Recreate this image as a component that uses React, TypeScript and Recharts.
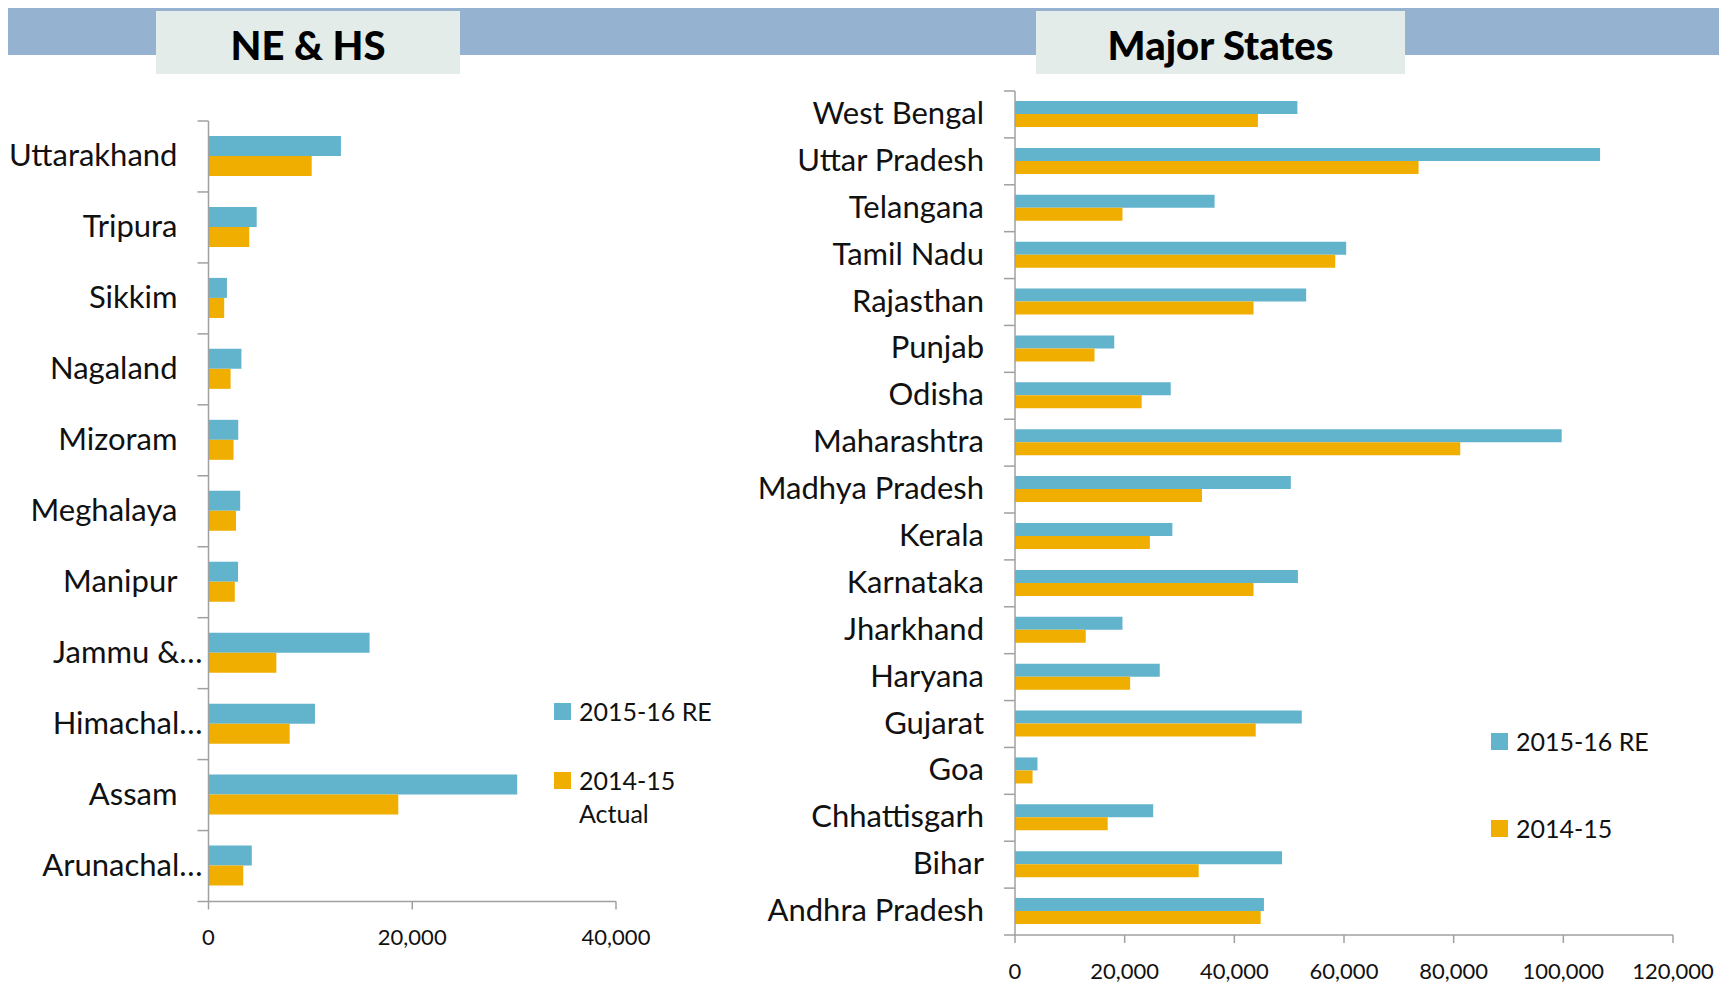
import React from 'react';
import { BarChart, Bar, XAxis, YAxis, Legend } from 'recharts';

// NE & HS states, top to bottom as drawn
const neStates = ['Uttarakhand', 'Tripura', 'Sikkim', 'Nagaland', 'Mizoram', 'Meghalaya', 'Manipur', 'Jammu &…', 'Himachal…', 'Assam', 'Arunachal…'];
const neRE = [13000, 4730, 1810, 3230, 2920, 3110, 2900, 15810, 10450, 30300, 4250];
const neActual = [10130, 4000, 1540, 2170, 2460, 2700, 2580, 6660, 7970, 18630, 3410];
const neTicks = [0, 20000, 40000];

// Major states, top to bottom as drawn
const majorStates = ['West Bengal', 'Uttar Pradesh', 'Telangana', 'Tamil Nadu', 'Rajasthan', 'Punjab', 'Odisha', 'Maharashtra', 'Madhya Pradesh', 'Kerala', 'Karnataka', 'Jharkhand', 'Haryana', 'Gujarat', 'Goa', 'Chhattisgarh', 'Bihar', 'Andhra Pradesh'];
const majorRE = [51500, 106700, 36400, 60400, 53100, 18100, 28400, 99700, 50300, 28700, 51600, 19600, 26400, 52300, 4100, 25200, 48700, 45400];
const majorActual = [44300, 73600, 19600, 58400, 43500, 14500, 23100, 81200, 34100, 24600, 43500, 12900, 21000, 43900, 3200, 16900, 33500, 44800];
const majorTicks = [0, 20000, 40000, 60000, 80000, 100000, 120000];

const BLUE = '#62B3CC';
const ORANGE = '#F0AE00';
const GRAY = '#A0A0A0';
const FONT = 'Lato, "Open Sans", sans-serif';
const seriesOrder = ['re', 'actual'];

const neData = neStates.map((name, i) => ({ name, re: neRE[i], actual: neActual[i] }));
const majorData = majorStates.map((name, i) => ({ name, re: majorRE[i], actual: majorActual[i] }));

function CategoryTick(props: any) {
  const { x, y, payload, index, band, count } = props;
  const half = band / 2;
  const truncated = String(payload.value).endsWith('…');
  return (
    <g>
      <line x1={x - 11} x2={x} y1={y - half} y2={y - half} stroke={GRAY} strokeWidth={1.5} />
      {index === count - 1 && (
        <line x1={x - 11} x2={x} y1={y + half} y2={y + half} stroke={GRAY} strokeWidth={1.5} />
      )}
      <text
        x={x - (truncated ? 6 : 31)}
        y={y - 2.5}
        textAnchor="end"
        dominantBaseline="central"
        fontFamily={FONT}
        fontSize={31}
        fill="#111"
      >
        {payload.value}
      </text>
    </g>
  );
}

function ValueTick(props: any) {
  const { x, y, payload } = props;
  return (
    <text x={x} y={y + 27} textAnchor="middle" dominantBaseline="central" fontFamily={FONT} fontSize={22} fill="#111">
      {Number(payload.value).toLocaleString('en-US')}
    </text>
  );
}

function makeLegend(gap: number) {
  return (props: any) => {
    const items = [...(props.payload || [])].sort(
      (a: any, b: any) => seriesOrder.indexOf(a.dataKey) - seriesOrder.indexOf(b.dataKey)
    );
    return (
      <div style={{ fontFamily: FONT }}>
        {items.map((p: any, i: number) => (
          <div key={i} style={{ display: 'flex', alignItems: 'flex-start', marginBottom: gap }}>
            <span style={{ width: 17, height: 17, background: p.color, marginTop: 8, marginRight: 8, flex: 'none' }} />
            <span style={{ width: 145, fontSize: 25, lineHeight: '33px', color: '#111' }}>{p.value}</span>
          </div>
        ))}
      </div>
    );
  };
}

const titleBox = (left: number, width: number, text: string) => (
  <div
    style={{
      position: 'absolute',
      left,
      top: 11,
      width,
      height: 63,
      background: '#E3ECE9',
      display: 'flex',
      alignItems: 'center',
      justifyContent: 'center',
      paddingTop: 4,
      boxSizing: 'border-box',
      fontFamily: FONT,
      fontWeight: 900,
      fontSize: 40,
      color: '#000',
    }}
  >
    {text}
  </div>
);

export default function App() {
  const nePlotH = 901.5 - 121;
  const majorPlotH = 935 - 91;
  return (
    <div style={{ position: 'relative', width: 1719, height: 983, overflow: 'hidden', background: '#fff' }}>
      <style>{`body{margin:0}`}</style>
      <div style={{ position: 'absolute', left: 8, top: 8, width: 1711, height: 47, background: '#95B3D1' }} />
      {titleBox(156, 304, 'NE & HS')}
      {titleBox(1036, 369, 'Major States')}

      <div style={{ position: 'absolute', left: 0, top: 0 }}>
        <BarChart
          width={700}
          height={983}
          data={neData}
          layout="vertical"
          margin={{ top: 121, right: 84, bottom: 31.5, left: 0 }}
          barSize={20}
          barGap={0}
        >
          <XAxis
            type="number"
            domain={[0, 40000]}
            ticks={neTicks}
            height={50}
            axisLine={{ stroke: GRAY, strokeWidth: 1.5 }}
            tickLine={{ stroke: GRAY, strokeWidth: 1.5 }}
            tickSize={8}
            tickMargin={0}
            tick={<ValueTick />}
          />
          <YAxis
            type="category"
            dataKey="name"
            width={208.5}
            interval={0}
            axisLine={{ stroke: GRAY, strokeWidth: 1.5 }}
            tickLine={false}
            tickSize={0}
            tickMargin={0}
            tick={<CategoryTick band={nePlotH / neStates.length} count={neStates.length} />}
          />
          <Legend
            layout="horizontal"
            align="center"
            verticalAlign="middle"
            content={makeLegend(36)}
            wrapperStyle={{ left: 554, top: 694.5, width: 200 }}
          />
          <Bar dataKey="re" name="2015-16 RE" fill={BLUE} isAnimationActive={false} />
          <Bar dataKey="actual" name="2014-15 Actual" fill={ORANGE} isAnimationActive={false} />
        </BarChart>
      </div>

      <div style={{ position: 'absolute', left: 700, top: 0 }}>
        <BarChart
          width={1019}
          height={983}
          data={majorData}
          layout="vertical"
          margin={{ top: 91, right: 46, bottom: 0, left: 0 }}
          barSize={13}
          barGap={0}
        >
          <XAxis
            type="number"
            domain={[0, 120000]}
            ticks={majorTicks}
            height={48}
            axisLine={{ stroke: GRAY, strokeWidth: 1.5 }}
            tickLine={{ stroke: GRAY, strokeWidth: 1.5 }}
            tickSize={8}
            tickMargin={0}
            tick={<ValueTick />}
          />
          <YAxis
            type="category"
            dataKey="name"
            width={315}
            interval={0}
            axisLine={{ stroke: GRAY, strokeWidth: 1.5 }}
            tickLine={false}
            tickSize={0}
            tickMargin={0}
            tick={<CategoryTick band={majorPlotH / majorStates.length} count={majorStates.length} />}
          />
          <Legend
            layout="horizontal"
            align="center"
            verticalAlign="middle"
            content={makeLegend(54)}
            wrapperStyle={{ left: 791, top: 724.5, width: 200 }}
          />
          <Bar dataKey="re" name="2015-16 RE" fill={BLUE} isAnimationActive={false} />
          <Bar dataKey="actual" name="2014-15" fill={ORANGE} isAnimationActive={false} />
        </BarChart>
      </div>
    </div>
  );
}
